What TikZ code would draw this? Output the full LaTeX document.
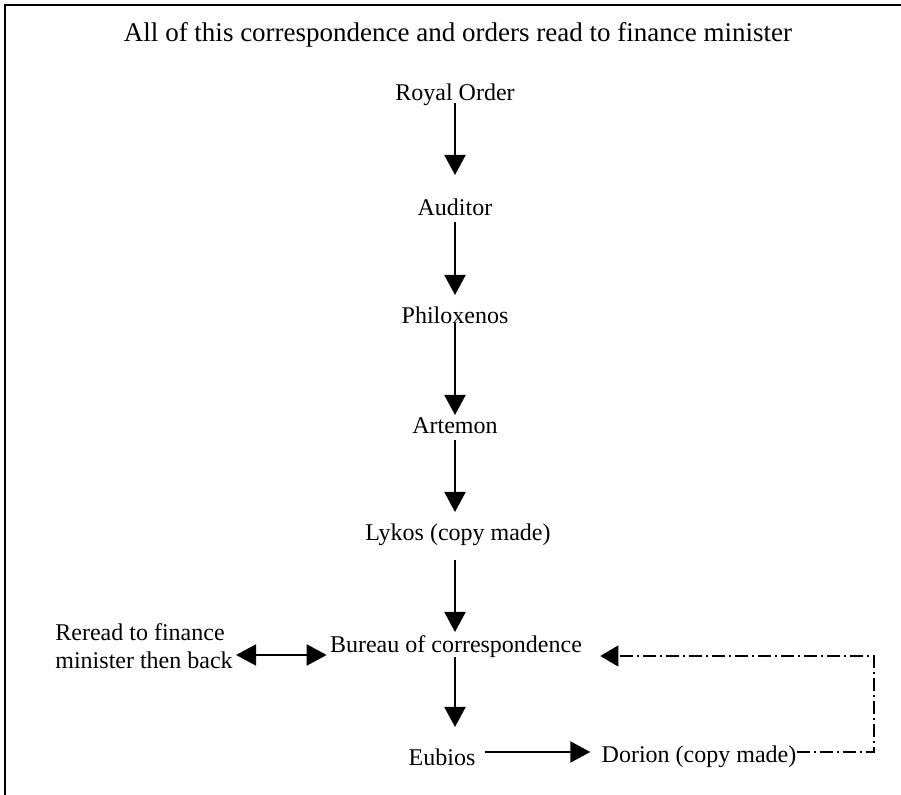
\documentclass[tikz,border=0pt]{standalone}
\usepackage{fontspec}
\setmainfont{Liberation Serif}
\usetikzlibrary{arrows.meta}
\usetikzlibrary{positioning}

\tikzset{
  txt/.style={inner sep=0pt},
  flow/.style={-{Triangle[length=10pt,width=10.5pt]}, line width=1pt},
  twoway/.style={{Triangle[length=10pt,width=10.5pt]}-{Triangle[length=10pt,width=10.5pt]}, line width=1pt},
  backcopy/.style={-{Triangle[length=9pt,width=10.5pt]}, line width=0.6pt,
    dash pattern=on 6.5pt off 2pt on 1pt off 2pt}
}

\begin{document}
\begin{tikzpicture}[x=0.5pt, y=-0.5pt, font=\fontsize{12}{14}\selectfont]
\useasboundingbox (0,0) rectangle (901,795);
\draw [line width=1pt] (5,795) -- (5,5) -- (901,5);

\node [txt, font=\fontsize{13.5}{16}\selectfont] (title) at (458, 35) {All of this correspondence and orders read to finance minister};
\node [txt] (royal) at (455, 95) {Royal Order};
\node [txt] (auditor) at (455, 207) {Auditor};
\node [txt] (philox) at (455, 315) {Philoxenos};
\node [txt] (artemon) at (455, 426) {Artemon};
\node [txt] (lykos) at (458, 535) {Lykos (copy made)};
\node [txt] (bureau) at (456, 647) {Bureau of correspondence};
\node [txt] (eubios) at (442, 757) {Eubios};
\node [txt] (dorion) at (699, 757) {Dorion (copy made)};
\node [txt, align=left, anchor=west] (reread) at (55, 646) {Reread to finance\\minister then back};
\coordinate (loop) at (874, 656);

\draw [flow, shorten <=4pt, shorten >=16pt] (royal.center) to (auditor.center);
\draw [flow, shorten <=7.5pt, shorten >=10pt] (auditor.center) to (philox.center);
\draw [flow, shorten <=4pt, shorten >=5.5pt] (philox.center) to (artemon.center);
\draw [flow, shorten <=7pt, shorten >=11.5pt] (artemon.center) to (artemon.center |- lykos.center);
\draw [flow, shorten <=12.5pt, shorten >=7.5pt] (artemon.center |- lykos.center) to (artemon.center |- bureau.center);
\draw [flow, shorten <=5pt, shorten >=15pt] (artemon.center |- bureau.center) to (artemon.center |- eubios.center);
\draw [flow, shorten <=4.5pt, shorten >=5.5pt] ([yshift=2.5pt]eubios.east) to ([yshift=2.5pt]dorion.west);
\draw [twoway, shorten <=1.5pt, shorten >=1.5pt] ([yshift=-4.5pt]reread.east) to ([yshift=-4.5pt]reread.east -| bureau.west);
\draw [backcopy, shorten >=9pt] ([yshift=2.5pt]dorion.east) -| (loop) -- (loop -| bureau.east);
\end{tikzpicture}
\end{document}
